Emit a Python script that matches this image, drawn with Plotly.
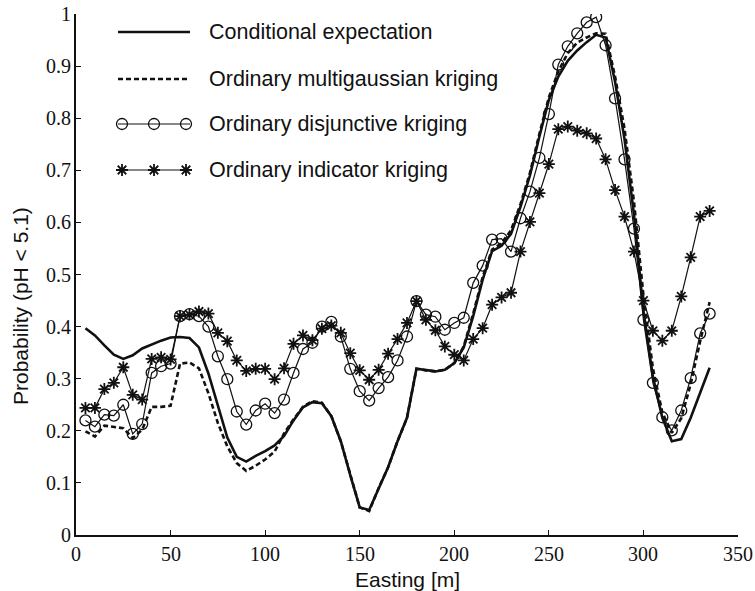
import plotly.graph_objects as go

easting = [5, 10, 15, 20, 25, 30, 35, 40, 45, 50, 55, 60, 65, 70, 75, 80, 85, 90, 95, 100,
           105, 110, 115, 120, 125, 130, 135, 140, 145, 150, 155, 160, 165, 170, 175, 180, 185, 190, 195, 200,
           205, 210, 215, 220, 225, 230, 235, 240, 245, 250, 255, 260, 265, 270, 275, 280, 285, 290, 295, 300,
           305, 310, 315, 320, 325, 330, 335]

cond_exp = [0.397, 0.383, 0.364, 0.346, 0.338, 0.345, 0.358, 0.366, 0.373, 0.379,
            0.380, 0.378, 0.360, 0.310, 0.248, 0.187, 0.150, 0.141, 0.152, 0.161,
            0.172, 0.190, 0.220, 0.245, 0.255, 0.253, 0.228, 0.180, 0.115, 0.053,
            0.048, 0.090, 0.130, 0.180, 0.225, 0.319, 0.316, 0.314, 0.317, 0.330,
            0.360, 0.420, 0.490, 0.545, 0.555, 0.578, 0.630, 0.690, 0.765, 0.835,
            0.880, 0.910, 0.930, 0.946, 0.960, 0.955, 0.870, 0.760, 0.615, 0.430,
            0.304, 0.225, 0.180, 0.184, 0.225, 0.275, 0.321]

multigauss = [0.199, 0.189, 0.210, 0.207, 0.205, 0.186, 0.202, 0.246, 0.246, 0.248,
              0.329, 0.331, 0.320, 0.272, 0.215, 0.170, 0.138, 0.123, 0.133, 0.145,
              0.160, 0.195, 0.222, 0.246, 0.257, 0.254, 0.228, 0.180, 0.115, 0.053,
              0.046, 0.090, 0.130, 0.180, 0.225, 0.319, 0.316, 0.314, 0.317, 0.330,
              0.362, 0.425, 0.495, 0.548, 0.560, 0.585, 0.635, 0.695, 0.770, 0.840,
              0.890, 0.925, 0.945, 0.955, 0.963, 0.962, 0.880, 0.780, 0.640, 0.460,
              0.320, 0.235, 0.196, 0.224, 0.290, 0.372, 0.447]

disjunctive = [0.220, 0.208, 0.231, 0.229, 0.250, 0.194, 0.213, 0.311, 0.324, 0.329,
               0.420, 0.424, 0.420, 0.400, 0.343, 0.299, 0.237, 0.212, 0.239, 0.252,
               0.234, 0.260, 0.311, 0.357, 0.369, 0.400, 0.409, 0.381, 0.319, 0.276,
               0.258, 0.282, 0.303, 0.335, 0.381, 0.449, 0.423, 0.419, 0.394, 0.407,
               0.417, 0.484, 0.517, 0.567, 0.569, 0.544, 0.608, 0.659, 0.724, 0.808,
               0.903, 0.938, 0.963, 0.984, 0.994, 0.940, 0.838, 0.721, 0.588, 0.413,
               0.292, 0.226, 0.201, 0.239, 0.301, 0.387, 0.425]

indicator = [0.244, 0.244, 0.280, 0.292, 0.322, 0.269, 0.260, 0.338, 0.341, 0.337,
             0.420, 0.423, 0.429, 0.425, 0.388, 0.372, 0.335, 0.315, 0.319, 0.319,
             0.299, 0.320, 0.367, 0.383, 0.374, 0.396, 0.402, 0.388, 0.349, 0.316,
             0.298, 0.317, 0.348, 0.376, 0.407, 0.449, 0.413, 0.393, 0.362, 0.346,
             0.335, 0.376, 0.397, 0.442, 0.456, 0.465, 0.544, 0.601, 0.656, 0.712,
             0.779, 0.784, 0.776, 0.771, 0.761, 0.721, 0.662, 0.611, 0.544, 0.450,
             0.392, 0.373, 0.392, 0.458, 0.533, 0.611, 0.622]

series_names = ["Conditional expectation", "Ordinary multigaussian kriging",
                "Ordinary disjunctive kriging", "Ordinary indicator kriging"]

x_ticks = [0, 50, 100, 150, 200, 250, 300, 350]
y_ticks = [0, 0.1, 0.2, 0.3, 0.4, 0.5, 0.6, 0.7, 0.8, 0.9, 1]
x_tick_text = ["0", "50", "100", "150", "200", "250", "300", "350"]
y_tick_text = ["0", "0.1", "0.2", "0.3", "0.4", "0.5", "0.6", "0.7", "0.8", "0.9", "1"]

INK = "#111111"
SERIF = "Liberation Serif"
SANS = "Liberation Sans"
W, H = 755, 591
L, R, T, B = 76, 17, 14, 56

fig = go.Figure()

styles = [
    dict(mode="lines", line=dict(color=INK, width=2.6)),
    dict(mode="lines", line=dict(color=INK, width=2.6, dash="5px,3px")),
    dict(mode="lines+markers", line=dict(color=INK, width=1.2),
         marker=dict(symbol="circle-open", size=11, color=INK, line=dict(width=1.3, color=INK))),
    dict(mode="lines+markers", line=dict(color=INK, width=1.2),
         marker=dict(symbol="asterisk-open", size=10, color=INK, line=dict(width=1.8, color=INK))),
]
for name, ys, st in zip(series_names, [cond_exp, multigauss, disjunctive, indicator], styles):
    fig.add_trace(go.Scatter(x=easting, y=ys, name=name, showlegend=False, **st))

# Custom legend drawn on an overlay axis measured in page pixels
leg_rows = [32, 79, 124, 170]
leg_x0, leg_x1 = 118, 190
leg_marks = [122, 154, 186]
for name, row, st in zip(series_names, leg_rows, styles):
    fig.add_trace(go.Scatter(x=[leg_x0, leg_x1], y=[row, row], mode="lines", line=st["line"],
                             xaxis="x2", yaxis="y2", showlegend=False, hoverinfo="skip"))
    if "marker" in st:
        fig.add_trace(go.Scatter(x=leg_marks, y=[row] * 3, mode="markers", marker=st["marker"],
                                 xaxis="x2", yaxis="y2", showlegend=False, hoverinfo="skip"))
    fig.add_annotation(x=207, y=row, xref="x2", yref="y2", text=name, showarrow=False,
                       xanchor="left", yanchor="middle",
                       font=dict(family=SANS, size=21.5, color=INK))

axis_common = dict(showline=True, linecolor=INK, linewidth=1.5, ticks="inside", ticklen=5,
                   tickwidth=1.2, tickcolor=INK, showgrid=False, zeroline=False, mirror=False,
                   showticklabels=False)

fig.update_layout(
    width=W, height=H,
    margin=dict(l=L, r=R, t=T, b=B),
    paper_bgcolor="white", plot_bgcolor="white",
    font=dict(family=SERIF, color=INK),
    xaxis=dict(range=[0, 350], tickvals=x_ticks, **axis_common),
    yaxis=dict(range=[0, 1], tickvals=y_ticks, **axis_common),
    xaxis2=dict(overlaying="x", range=[L, W - R], visible=False, anchor="y2"),
    yaxis2=dict(overlaying="y", range=[H - B, T], visible=False, anchor="x2"),
)

# Tick labels as serif text annotations placed at the axis tick values
for v, t in zip(x_ticks, x_tick_text):
    fig.add_annotation(x=v, y=0, xref="x", yref="paper", yshift=-6, text=t, showarrow=False,
                       xanchor="center", yanchor="top",
                       font=dict(family=SERIF, size=20, color=INK))
for v, t in zip(y_ticks, y_tick_text):
    fig.add_annotation(x=0, y=v, xref="paper", yref="y", xshift=-3, text=t, showarrow=False,
                       xanchor="right", yanchor="middle",
                       font=dict(family=SERIF, size=20, color=INK))

fig.add_annotation(x=0.5, y=-(579 - (H - B)) / (H - T - B), xref="paper", yref="paper",
                   text="Easting [m]", showarrow=False, xanchor="center", yanchor="middle",
                   font=dict(family=SANS, size=21, color=INK))
fig.add_annotation(x=(20 - L) / (W - L - R), y=((H - B) - 306) / (H - T - B), xref="paper", yref="paper",
                   text="Probability (pH < 5.1)", showarrow=False, textangle=-90,
                   xanchor="center", yanchor="middle",
                   font=dict(family=SANS, size=21, color=INK))

fig.write_html("out.html")
